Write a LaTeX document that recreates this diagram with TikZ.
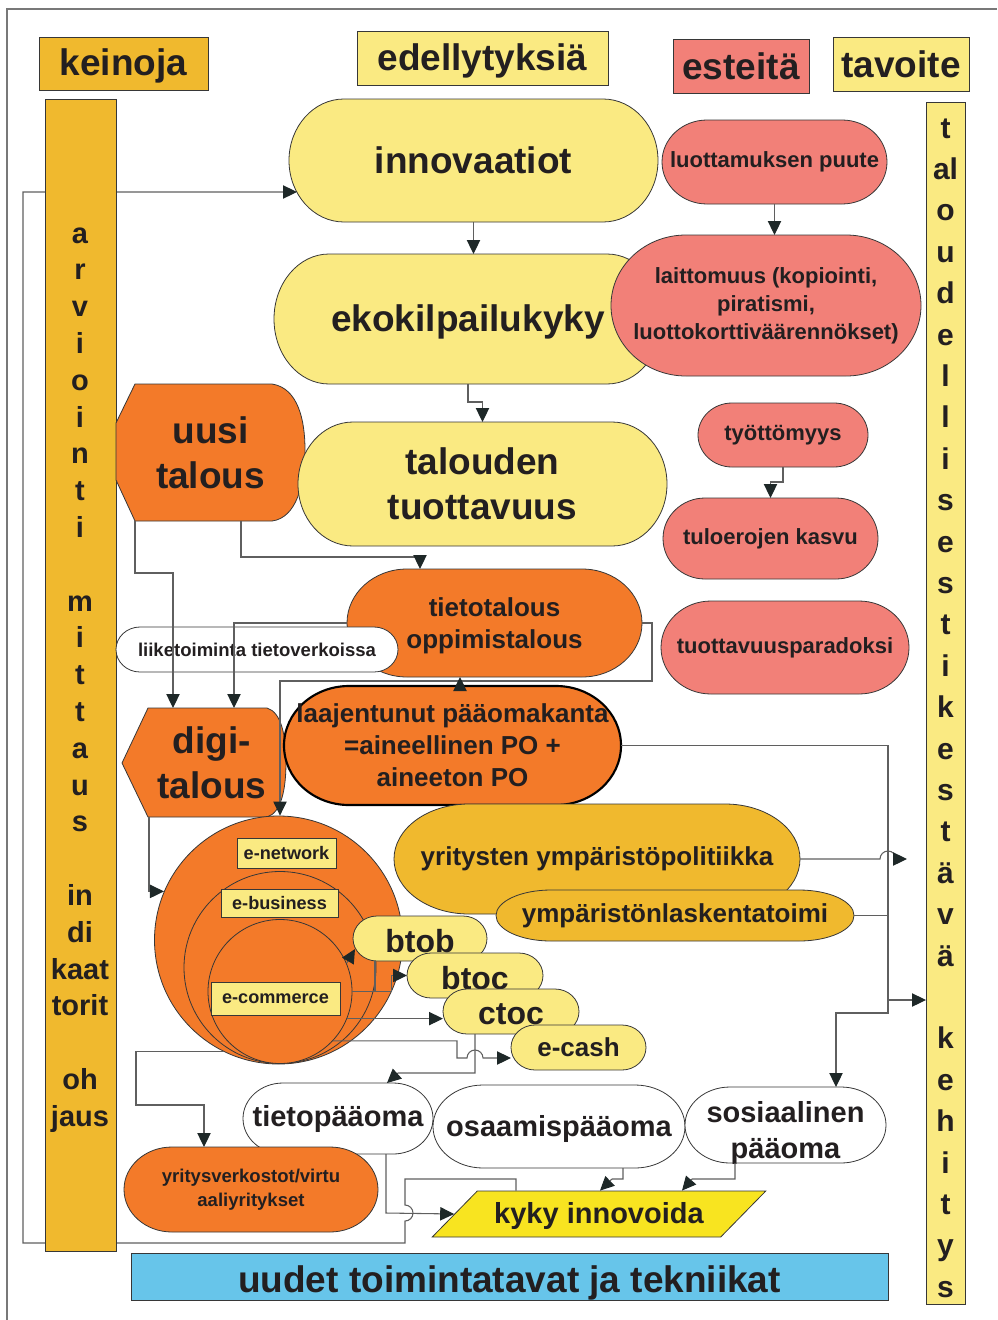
\documentclass[tikz,border=0pt]{standalone}
\usepackage{fontspec}
\setmainfont{Liberation Sans}
\usetikzlibrary{arrows.meta,calc,shapes.geometric}

\definecolor{gold}{RGB}{240,185,46}
\definecolor{lyel}{RGB}{250,234,130}
\definecolor{salm}{RGB}{242,128,120}
\definecolor{oran}{RGB}{243,122,41}
\definecolor{kyel}{RGB}{248,228,32}
\definecolor{sky}{RGB}{103,197,234}
\definecolor{ink}{RGB}{35,31,32}
\definecolor{edge}{RGB}{55,55,55}
\definecolor{wirec}{RGB}{95,95,95}
\definecolor{headc}{RGB}{30,40,40}
\definecolor{framec}{RGB}{120,120,120}

\pgfdeclarelayer{back}
\pgfsetlayers{back,main}

% pill with elliptic ends: #1 path style, #2 text style, #3 name,
% #4 x1, #5 y1, #6 x2, #7 y2, #8 end radius, #9 text
\newcommand\pill[9]{%
  \path[#1] (#4+#8,#5) -- (#6-#8,#5)
    arc[start angle=-90,end angle=90,x radius=#8,y radius={(#7-#5)/2}]
    -- (#4+#8,#7)
    arc[start angle=90,end angle=270,x radius=#8,y radius={(#7-#5)/2}] -- cycle;
  \node[pbox={#4}{#5}{#6}{#7}, #2] (#3) at ({(#4+#6)/2},{(#5+#7)/2}) {#9};}

% plain rectangle node: #1 style, #2 name, #3 x1, #4 y1, #5 x2, #6 y2, #7 text
\newcommand\rectnode[7]{%
  \node[pbox={#3}{#4}{#5}{#6}, #1] (#2) at ({(#3+#5)/2},{(#4+#6)/2}) {#7};}

% set a line of text a little lower without changing its box
\newcommand\shiftdown[2]{\raisebox{-#1}[\height][\depth]{#2}}

\begin{document}
\begin{tikzpicture}[x=0.75pt, y=-0.75pt,
  pbox/.style n args={4}{minimum width={(#3-#1)*0.75pt}, minimum height={(#4-#2)*0.75pt},
    inner sep=0pt, outer sep=0pt, align=center, text=ink},
  shp/.style={draw=edge, line width=0.6pt},
  wire/.style={draw=wirec, line width=0.8pt},
  arr/.style={wire, -{Triangle[length=10.5pt,width=10pt,color=headc]}},
  fA/.style={font=\fontsize{27.75}{33.75}\selectfont\bfseries},
  fB/.style={font=\fontsize{21.75}{27}\selectfont\bfseries},
  fC/.style={font=\fontsize{19.5}{24}\selectfont\bfseries},
  fD/.style={font=\fontsize{16.5}{21}\selectfont\bfseries},
  fE/.style={font=\fontsize{13.9}{18}\selectfont\bfseries},
  fF/.style={font=\fontsize{24}{28}\selectfont\bfseries},
  fG/.style={font=\fontsize{13.6}{16}\selectfont\bfseries},
  fL/.style={font=\fontsize{21.75}{26}\selectfont\bfseries, text=ink},
  fR/.style={font=\fontsize{22.5}{26}\selectfont\bfseries, text=ink}]
\useasboundingbox (0,0) rectangle (997,1320);

% outer frame
\draw[framec, line width=0.9pt] (7,1320) -- (7,9) -- (997,9);

% headings
\rectnode{fill=gold, shp, fA}{keinoja}{39}{37}{208}{90}{\shiftdown{2pt}{keinoja}}
\rectnode{fill=lyel, shp, fA}{edell}{357}{31}{608}{85}{\shiftdown{2pt}{edellytyksiä}}
\rectnode{fill=salm, shp, fA}{esteet}{673}{39}{809}{93}{esteitä}
\rectnode{fill=lyel, shp, fA}{tavoite}{833}{37}{969}{91}{tavoite}

% left column
\rectnode{fill=gold, shp}{lbar}{45}{99}{116}{1251}{}
\foreach \s [count=\i from 0] in {a,r,v,i,o,i,n,t,i,{},m,i,t,t,a,u,s,{},in,di,kaat,torit,{},oh,jaus}
  \node[fL, anchor=base, inner sep=0pt] (lb\i) at (80,{243+\i*36.8}) {\s};

% right column
\rectnode{fill=lyel, shp}{rbar}{926}{102}{965}{1304}{}
\foreach \s [count=\i from 0] in {t,al,o,u,d,e,l,l,i,s,e,s,t,i,k,e,s,t,ä,v,ä,{},k,e,h,i,t,y,s}
  \node[fR, anchor=base, inner sep=0pt] (rb\i) at (945.5,{138+\i*41.4}) {\s};

% upper chain
\pill{fill=lyel, shp}{fA}{innov}{289}{99}{658}{222}{55}{innovaatiot}
\pill{fill=lyel, shp}{fA}{eko}{274}{254}{662}{384}{55}{\shiftdown{2pt}{ekokilpailukyky}}
\pill{fill=salm, shp}{fD}{lait}{611}{235}{921}{376}{75}{laittomuus (kopiointi,\\piratismi,\\luottokorttiväärennökset)}
\pill{fill=salm, shp}{fD}{luot}{662}{120}{887}{204}{45}{luottamuksen puute}

% uusi talous
\path[fill=oran, shp] (135,384) -- (272,384) .. controls (298,388) and (305,420) .. (305,450)
  .. controls (305,485) and (296,518) .. (272,521) -- (135,521) -- (116,480) -- (116,423) -- cycle;
\node[pbox={116}{384}{305}{521}, fA] (uusi) at (210.5,452.5) {uusi\\talous};

\pill{fill=lyel, shp}{fA}{tal}{298}{422}{667}{546}{55}{talouden\\tuottavuus}
\pill{fill=salm, shp}{fD}{tyot}{698}{403}{868}{467}{34}{työttömyys}
\pill{fill=salm, shp}{fD}{tulo}{663}{498}{878}{579}{42}{tuloerojen kasvu}
\pill{fill=salm, shp}{fD}{parad}{661}{601}{909}{694}{50}{tuottavuusparadoksi}
\pill{fill=oran, shp}{fC}{tiet}{347}{569}{642}{677}{60}{\shiftdown{2pt}{tietotalous}\\\shiftdown{2pt}{oppimistalous}}
\pill{fill=white, shp}{fE}{liike}{116}{627}{398}{672}{24}{liiketoiminta tietoverkoissa}

% digi-talous
\path[fill=oran, shp] (148,708) -- (267,708) .. controls (281,712) and (286,735) .. (286,762)
  .. controls (286,790) and (281,813) .. (267,817) -- (148,817) -- (122,763) -- cycle;
\node[pbox={122}{708}{286}{817}, fA] (digi) at (212,762.5) {digi-\\talous};

\pill{fill=oran, draw=black, line width=1.6pt}{fC}{laaj}{284}{686}{621}{805}{65}{laajentunut pääomakanta\\=aineellinen PO +\\aineeton PO}
\pill{fill=gold, shp}{fC}{ympp}{394}{804}{800}{914}{75}{yritysten ympäristöpolitiikka}
\pill{fill=gold, shp}{fC}{ympl}{496}{890}{854}{941}{55}{ympäristönlaskentatoimi}

% nested e-circles
\node[circle, shp, fill=oran, minimum size={248*0.75pt}, inner sep=0pt] (enet) at (278.5,940) {};
\node[circle, shp, fill=oran, minimum size={192*0.75pt}, inner sep=0pt] (ebus) at (280,967.5) {};
\node[circle, shp, fill=oran, minimum size={144*0.75pt}, inner sep=0pt] (ecom) at (280,991.5) {};
\rectnode{fill=lyel, shp, fG}{lnet}{237}{838}{336}{868}{e-network}
\rectnode{fill=lyel, shp, fG}{lbus}{221}{889}{338}{917}{e-business}
\rectnode{fill=lyel, shp, fG}{lcom}{211}{982}{340}{1015}{e-commerce}

\pill{fill=lyel, shp}{fF}{btob}{353}{916}{487}{961}{24}{\shiftdown{2pt}{btob}}
\pill{fill=lyel, shp}{fF}{btoc}{407}{953}{543}{998}{24}{\shiftdown{2pt}{btoc}}
\pill{fill=lyel, shp}{fF}{ctoc}{443}{989}{579}{1034}{24}{\shiftdown{2pt}{ctoc}}
\pill{fill=lyel, shp}{fC}{ecash}{511}{1025}{646}{1070}{24}{e-cash}

% capital row
\pill{fill=white, shp}{fB}{tietp}{243}{1083}{433}{1154}{40}{tietopääoma}
\pill{fill=white, shp}{fB}{osaa}{433}{1085}{685}{1168}{50}{\shiftdown{1.5pt}{osaamispääoma}}
\pill{fill=white, shp}{fB}{sosi}{685}{1087}{886}{1163}{45}{\shiftdown{6pt}{sosiaalinen}\\\shiftdown{6pt}{pääoma}}
\pill{fill=oran, shp}{fE}{yrit}{124}{1147}{378}{1232}{48}{yritysverkostot/virtu\\aaliyritykset}

\node[trapezium, trapezium left angle=34.9, trapezium right angle=145.1, trapezium stretches=true,
  minimum width={334*0.75pt}, minimum height={46*0.75pt}, inner sep=0pt, fill=kyel, shp,
  font=\fontsize{21.75}{26}\selectfont\bfseries, text=ink] (kyky) at (599,1214) {\shiftdown{1.5pt}{kyky innovoida}};

\rectnode{fill=sky, shp, fA}{uudet}{131}{1253}{888}{1300}{\shiftdown{4.5pt}{uudet toimintatavat ja tekniikat}}

% connectors
\draw[arr] (innov.south) -- (innov.south |- eko.north);
\draw[arr] (luot.south) -- (luot.south |- lait.north);
\draw[arr] (eko.south) -- ++(0,18) -| (tal.north);
\draw[arr] (tyot.south) -- ++(0,15) -| (tulo.north);
\draw[arr] (uusi.south -| 241,0) -- ++(0,36) -| (tiet.north -| 420,0);
\draw[arr] (uusi.south -| 135,0) -- ++(0,52) -| (digi.north -| 173,0);
\draw[arr] (tiet.west) -| (digi.north -| 234,0);
\draw[arr] (tiet.east) -- ++(10,0) |- (280,681) -- (enet.north -| 280,0);
\draw[arr] (laaj.north -| 460,0) -- (tiet.south -| 460,0);

\coordinate (jr) at (888,1000);
\coordinate (pend) at (907,859);
\draw[arr] (laaj.east) -| (888,1013) -| (sosi.north -| 836,0);
\draw[arr] (jr) -- (jr -| rbar.west);
\draw[arr] (ympp.east) -- (880,859) arc[start angle=180,end angle=360,radius=8] -- (pend);
\draw[wire] (ympl.east) -- (ympl.east -| jr);

\draw[arr] (digi.south -| 149,0) |- (enet.157.7);
\draw[arr] (enet.244.5) -| (136,1105) -| (yrit.north -| 204,0);
\draw[arr] (ecom.0) -- ++(39,0) |- (btoc.west);
\draw[wire] (btob.south -| 375,0) -- (375,991.5);
\draw[arr] (ecom.23) -- ($(btob.west)+(2,10.5)$);
\draw[arr] (ecom.-22.5) -- (ecom.-22.5 -| ctoc.west);
\draw[arr] (ecom.-43.4) -| (457,1058) -- (467,1058) arc[start angle=180,end angle=360,radius=8]
  -- (ecash.west |- 0,1058);
\draw[arr] (ctoc.south -| 475,0) -- (475,1073) -- (398,1073) -- (tietp.north -| 387,0);

\draw[arr] (tietp.south -| 386,0) -- (386,1213) -- (kyky.west);
\draw[arr] (osaa.south -| 623,0) -- (623,1179) -- (612,1179) -- (kyky.north -| 600,0);
\draw[arr] (sosi.south -| 735,0) -- (735,1179) -- (692,1179) -- (kyky.north -| 682,0);

% feedback loop running behind the left column
\begin{pgfonlayer}{back}
\draw[arr] (kyky.north -| 516,0) -- (516,1179) -- (405,1179) -- (405,1205)
  arc[start angle=-90,end angle=90,radius=8] -- (405,1243) -- (23,1243) -- (23,192)
  -- ($(innov.west)+(8,31.5)$);
\end{pgfonlayer}
\end{tikzpicture}
\end{document}
